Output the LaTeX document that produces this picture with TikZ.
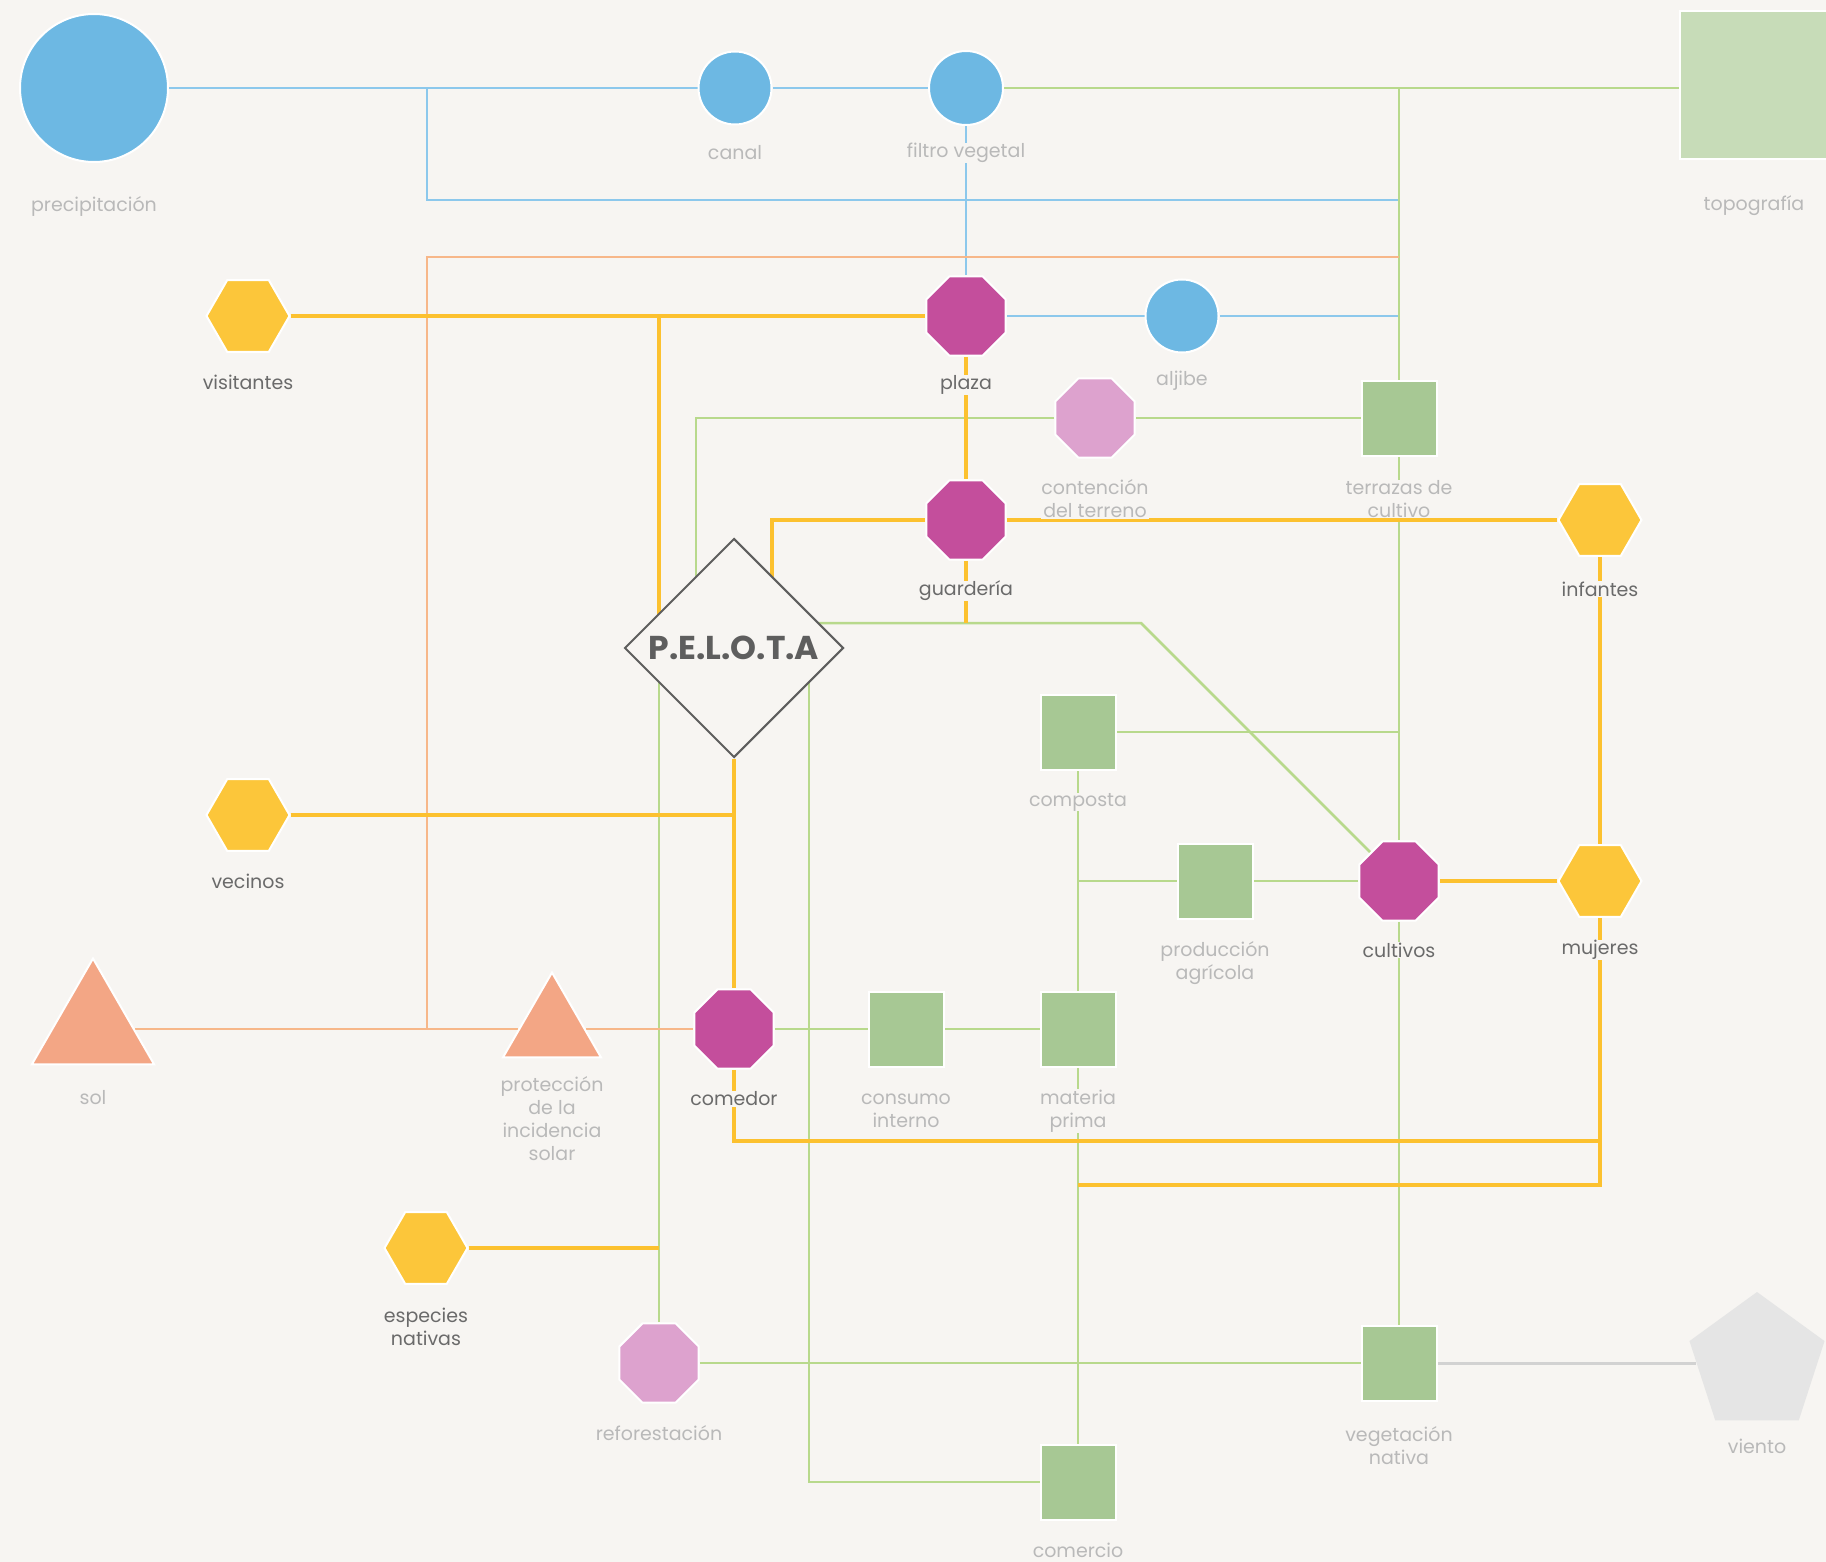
\documentclass[tikz,border=0pt]{standalone}
\usepackage{fontspec}
\setmainfont{Poppins}
\usetikzlibrary{shapes.geometric}
\pgfdeclarelayer{bgl}
\pgfdeclarelayer{edges}
\pgfsetlayers{bgl,edges,main}
\definecolor{pagebg}{HTML}{F7F5F2}
\definecolor{blueF}{HTML}{6DB8E3}
\definecolor{blueL}{HTML}{8CC8EC}
\definecolor{yelF}{HTML}{FCC63A}
\definecolor{yelL}{HTML}{FCC12F}
\definecolor{magF}{HTML}{C44E9C}
\definecolor{pinkF}{HTML}{DDA2CE}
\definecolor{grnF}{HTML}{A7C894}
\definecolor{topoF}{HTML}{C7DCB8}
\definecolor{grnL}{HTML}{B8D98C}
\definecolor{oraF}{HTML}{F3A685}
\definecolor{oraL}{HTML}{F7B789}
\definecolor{grayF}{HTML}{E5E5E5}
\definecolor{grayL}{HTML}{D2D2D2}
\definecolor{darkT}{HTML}{6A6A6A}
\definecolor{lightT}{HTML}{B9B9B9}
\definecolor{diaD}{HTML}{5E5E5E}
\begin{document}
\begin{tikzpicture}[x=1pt,y=-1pt,
  shp/.style={inner sep=0pt, draw=white, line width=2pt},
  circ/.style={shp, circle, fill=blueF},
  hexa/.style={shp, regular polygon, regular polygon sides=6, minimum size=83pt, fill=yelF},
  octa/.style={shp, regular polygon, regular polygon sides=8, minimum size=86pt, fill=magF},
  octp/.style={octa, fill=pinkF},
  sqr/.style={shp, rectangle, minimum size=75pt, fill=grnF},
  tri/.style={shp, regular polygon, regular polygon sides=3, fill=oraF},
  penta/.style={shp, regular polygon, regular polygon sides=5, minimum size=142pt, fill=grayF, draw=none},
  lab/.style={inner sep=0.5pt, fill=pagebg, text=lightT, align=center, font=\fontsize{19}{23}\selectfont},
  dlab/.style={lab, text=darkT},
  bl/.style={draw=blueL, line width=2.5pt},
  gr/.style={draw=grnL, line width=2.5pt},
  orl/.style={draw=oraL, line width=2.5pt},
  yl/.style={draw=yelL, line width=4.5pt},
  gy/.style={draw=grayL, line width=3pt}]
\begin{pgfonlayer}{bgl}
\fill[pagebg] (0,0) rectangle (1826,1562);
\end{pgfonlayer}
\useasboundingbox (0,0) rectangle (1826,1562);

% nodes
\node[circ, minimum size=148pt] (prec) at (94,88) {};
\node[circ, minimum size=73pt] (canal) at (735,88) {};
\node[circ, minimum size=74pt] (filtro) at (966,88) {};
\node[shp, rectangle, minimum size=148pt, fill=topoF] (topo) at (1754,85) {};
\node[hexa] (visit) at (248,316) {};
\node[octa] (plaza) at (966,316) {};
\node[circ, minimum size=73pt] (aljibe) at (1182,316) {};
\node[octp] (conten) at (1095,418) {};
\node[sqr] (terr) at (1399,418) {};
\node[octa] (guard) at (966,520) {};
\node[hexa] (infant) at (1600,520) {};
\node[diamond, aspect=1, minimum width=219pt, minimum height=219pt, inner sep=0pt,
      draw=diaD, line width=2pt, fill=pagebg, text=diaD,
      font=\fontsize{33}{36}\selectfont\bfseries] (pelota) at (734,648) {P.E.L.O.T.A};
\node[sqr] (compo) at (1078,732) {};
\node[hexa] (vecin) at (248,815) {};
\node[sqr] (prod) at (1215,881) {};
\node[octa] (cult) at (1399,881) {};
\node[hexa] (mujer) at (1600,881) {};
\node[tri, minimum size=141pt] (sol) at (93,1029) {};
\node[tri, minimum size=113pt] (prot) at (552,1029) {};
\node[octa] (comed) at (734,1029) {};
\node[sqr] (consu) at (906,1029) {};
\node[sqr] (mater) at (1078,1029) {};
\node[hexa] (espec) at (426,1248) {};
\node[octp] (refor) at (659,1363) {};
\node[sqr] (veget) at (1399,1363) {};
\node[penta] (viento) at (1757,1363) {};
\node[sqr] (comer) at (1078,1482) {};

% labels
\node[lab] (prec-l) at (94,206) {precipitación};
\node[lab] (canal-l) at (735,153) {canal};
\node[lab] (filtro-l) at (966,153) {filtro vegetal};
\node[lab] (topo-l) at (1754,206) {topografía};
\node[dlab] (visit-l) at (248,382) {visitantes};
\node[dlab] (plaza-l) at (966,385) {plaza};
\node[lab] (aljibe-l) at (1182,381) {aljibe};
\node[lab] (conten-l) at (1095,499) {contención\\del terreno};
\node[lab] (terr-l) at (1399,499) {terrazas de\\cultivo};
\node[dlab] (guard-l) at (966,591) {guardería};
\node[dlab] (infant-l) at (1600,589) {infantes};
\node[lab] (compo-l) at (1078,802) {composta};
\node[dlab] (vecin-l) at (248,881) {vecinos};
\node[lab] (prod-l) at (1215,963) {producción\\agrícola};
\node[dlab] (cult-l) at (1399,950) {cultivos};
\node[dlab] (mujer-l) at (1600,950) {mujeres};
\node[lab] (sol-l) at (93,1098) {sol};
\node[lab] (prot-l) at (552,1119) {protección\\de la\\incidencia\\solar};
\node[dlab] (comed-l) at (734,1099) {comedor};
\node[lab] (consu-l) at (906,1111) {consumo\\interno};
\node[lab] (mater-l) at (1078,1111) {materia\\prima};
\node[dlab] (espec-l) at (426,1327) {especies\\nativas};
\node[lab] (refor-l) at (659,1433) {reforestación};
\node[lab] (veget-l) at (1399,1446) {vegetación\\nativa};
\node[lab] (viento-l) at (1757,1446) {viento};
\node[lab] (comer-l) at (1078,1550) {comercio};

% connectors
\begin{pgfonlayer}{edges}
\coordinate (bj1) at (427,88);
\coordinate (bj2) at (1399,200);
\coordinate (gj2) at (696,418);
\coordinate (gj3) at (1141,623);
\coordinate (gj4) at (809,1482);
\coordinate (oj1) at (427,1029);
\coordinate (oj2) at (1399,257);
\coordinate (yj1) at (659,316);
\coordinate (yj2) at (772,520);
\coordinate (yj3) at (1600,1141);
\coordinate (yj4) at (1078,1185);
% blue
\draw[bl] (prec) -- (canal) -- (filtro);
\draw[bl] (bj1) |- (bj2);
\draw[bl] (filtro) -- (plaza);
\draw[bl] (plaza) -- (aljibe) -- (aljibe -| terr);
% green
\draw[gr] (filtro) -- (filtro -| topo);
\draw[gr] (filtro -| terr) -- (terr) -- (cult) -- (veget);
\draw[gr] (terr) -- (conten) -- (gj2) -- (gj2 |- pelota.center);
\draw[gr] (pelota.center |- gj3) -- (gj3) -- (cult);
\draw[gr] (refor) -- (refor |- pelota.center);
\draw[gr] (gj4 |- pelota.center) -- (gj4) -- (comer);
\draw[gr] (compo) -- (compo -| terr);
\draw[gr] (compo) -- (comer);
\draw[gr] (compo |- prod) -- (prod) -- (cult);
\draw[gr] (comed) -- (consu) -- (mater);
\draw[gr] (refor) -- (veget);
% orange
\draw[orl] (sol) -- (prot) -- (comed);
\draw[orl] (oj1) |- (oj2);
% yellow
\draw[yl] (guard) -- (guard |- gj3);
\draw[yl] (visit) -- (plaza);
\draw[yl] (yj1) -- (yj1 |- pelota.center);
\draw[yl] (plaza) -- (guard) -- (infant) -- (mujer);
\draw[yl] (guard) -- (yj2) -- (yj2 |- pelota.center);
\draw[yl] (cult) -- (mujer);
\draw[yl] (vecin) -- (vecin -| pelota);
\draw[yl] (pelota) -- (comed);
\draw[yl] (comed) |- (yj3) -- (mujer);
\draw[yl] (mujer) |- (yj4);
\draw[yl] (espec) -- (espec -| refor);
% gray
\draw[gy] (veget) -- (viento);
\end{pgfonlayer}
\end{tikzpicture}
\end{document}
